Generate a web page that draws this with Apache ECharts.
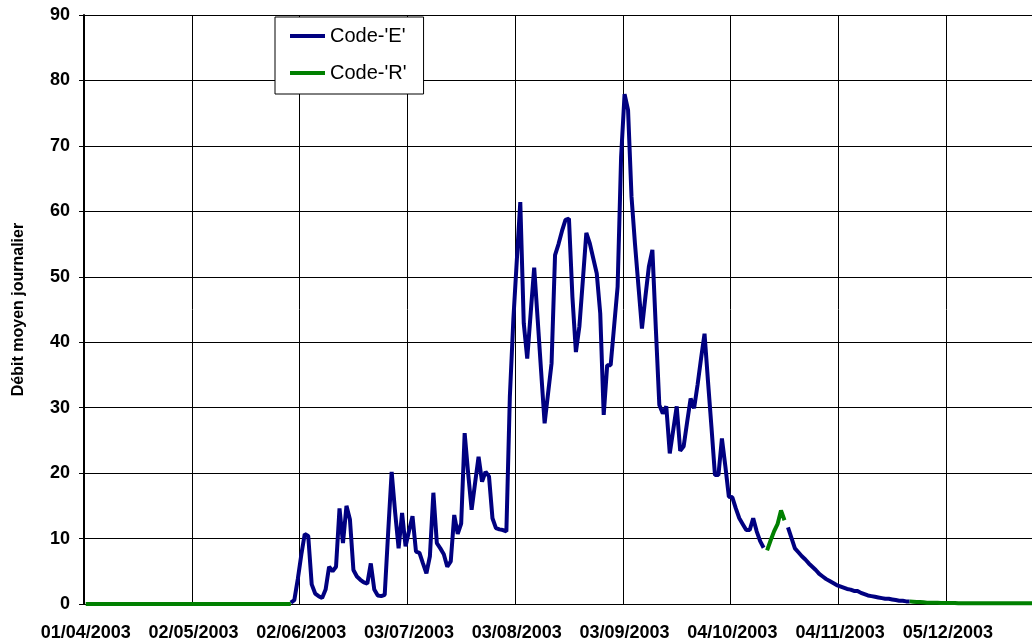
<!DOCTYPE html>
<html>
<head>
<meta charset="utf-8">
<script src="https://cdn.jsdelivr.net/npm/echarts@6/dist/echarts.min.js"></script>
<style>
html, body { margin: 0; padding: 0; background: #fff; overflow: hidden; }
/* the plot runs a few pixels past the right edge of the picture */
#chart { width: 1040px; height: 643px; }
</style>
</head>
<body>
<div id="chart"></div>
<script>
// daily axis: 01/04/2003 -> 31/12/2003
var startDay = new Date(2003, 3, 1);
var dayCount = 275;

// Code-'R' before the first measured day (01/04 -> 30/05), index 0
var rValues1 = [0, 0, 0, 0, 0, 0, 0, 0, 0, 0, 0, 0, 0, 0, 0, 0, 0, 0, 0, 0,
  0, 0, 0, 0, 0, 0, 0, 0, 0, 0, 0, 0, 0, 0, 0, 0, 0, 0, 0, 0,
  0, 0, 0, 0, 0, 0, 0, 0, 0, 0, 0, 0, 0, 0, 0, 0, 0, 0, 0, 0];

// Code-'E' from 30/05 (index 59) to 13/10 (index 195)
var eStart1 = 59;
var eValues1 = [0.2, 0.6, 3.8, 7.5, 10.7, 10.4, 3.0, 1.6, 1.2, 0.9,
  2.2, 5.7, 5.0, 5.7, 14.6, 9.3, 15.0, 12.9, 5.2, 4.2,
  3.7, 3.3, 3.1, 6.2, 2.2, 1.3, 1.2, 1.4, 11.0, 20.2,
  14.0, 8.5, 13.9, 8.8, 11.2, 13.4, 8.0, 7.8, 6.2, 4.7,
  7.3, 17.0, 9.3, 8.5, 7.6, 5.7, 6.5, 13.6, 10.7, 12.3,
  26.1, 20.0, 14.4, 18.5, 22.5, 18.7, 20.2, 19.5, 13.1, 11.6,
  11.4, 11.3, 11.1, 31.7, 43.4, 52.5, 61.4, 42.9, 37.5, 44.5,
  51.4, 43.5, 35.5, 27.6, 32.2, 36.8, 53.3, 55.0, 57.0, 58.7,
  58.9, 46.9, 38.5, 42.4, 49.5, 56.7, 55.1, 52.8, 50.5, 44.4,
  28.9, 36.5, 36.5, 42.5, 48.5, 68.3, 77.9, 75.5, 62.2, 55.0,
  48.5, 42.1, 47.0, 51.6, 54.1, 42.0, 30.4, 29.1, 30.2, 23.0,
  26.6, 30.2, 23.4, 24.1, 27.8, 31.4, 29.9, 33.5, 37.5, 41.3,
  34.0, 27.0, 19.7, 19.7, 25.3, 21.0, 16.4, 16.3, 14.6, 13.1,
  12.2, 11.3, 11.3, 13.1, 11.1, 9.6, 8.6];

// Code-'R' 14/10 -> 19/10
var rStart2 = 196;
var rValues2 = [8.2, 9.7, 11.1, 12.2, 14.3, 12.8];

// Code-'E' 20/10 -> 24/11
var eStart2 = 202;
var eValues2 = [11.7, 10.1, 8.5, 7.9, 7.3, 6.8, 6.2, 5.7, 5.2, 4.6,
  4.2, 3.8, 3.5, 3.2, 2.9, 2.7, 2.5, 2.3, 2.2, 2.0,
  2.0, 1.7, 1.5, 1.3, 1.2, 1.1, 1.0, 0.9, 0.8, 0.8,
  0.7, 0.6, 0.5, 0.5, 0.4, 0.4];

// Code-'R' 24/11 -> 31/12
var rStart3 = 237;
var rValues3 = [0.4, 0.35, 0.3, 0.3, 0.25, 0.2, 0.2, 0.2, 0.2, 0.15,
  0.15, 0.15, 0.15, 0.15, 0.1, 0.1, 0.1, 0.1, 0.1, 0.1,
  0.1, 0.1, 0.1, 0.1, 0.1, 0.1, 0.1, 0.1, 0.1, 0.1,
  0.1, 0.1, 0.1, 0.1, 0.1, 0.1, 0.1, 0.1];

var yTicks = [0, 10, 20, 30, 40, 50, 60, 70, 80, 90];

function pad(n) { return n < 10 ? '0' + n : '' + n; }

var days = [];
for (var i = 0; i < dayCount; i++) {
  var d = new Date(startDay.getFullYear(), startDay.getMonth(), startDay.getDate() + i);
  days.push(pad(d.getDate()) + '/' + pad(d.getMonth() + 1) + '/' + d.getFullYear());
}

function place(arr, start, values) {
  values.forEach(function (v, k) { arr[start + k] = v; });
}

var codeE = days.map(function () { return null; });
var codeR = days.map(function () { return null; });
place(codeR, 0, rValues1);
place(codeE, eStart1, eValues1);
place(codeR, rStart2, rValues2);
place(codeE, eStart2, eValues2);
place(codeR, rStart3, rValues3);

var font = '"Liberation Sans", Arial, sans-serif';

var myChart = echarts.init(document.getElementById('chart'));
myChart.setOption({
  animation: false,
  backgroundColor: '#fff',
  grid: {
    left: 84,
    top: 15,
    right: 0,
    bottom: 39,
    containLabel: false
  },
  legend: {
    orient: 'vertical',
    left: 275,
    top: 17,
    padding: [8, 17, 10, 15],
    icon: 'rect',
    itemWidth: 35,
    itemHeight: 4,
    itemGap: 15,
    backgroundColor: '#fff',
    borderColor: '#000',
    borderWidth: 1,
    borderRadius: 0,
    textStyle: {
      fontFamily: font,
      fontSize: 20,
      lineHeight: 22,
      color: '#000'
    },
    data: ["Code-'E'", "Code-'R'"]
  },
  xAxis: {
    type: 'category',
    data: days,
    boundaryGap: true,
    axisLine: { lineStyle: { color: '#000', width: 1 } },
    axisTick: { interval: 30, length: 5, lineStyle: { color: '#000' } },
    axisLabel: {
      interval: 30,
      margin: 20,
      fontFamily: font,
      fontWeight: 'bold',
      fontSize: 18,
      color: '#000'
    },
    splitLine: { show: true, interval: 30, lineStyle: { color: '#000', width: 1 } }
  },
  yAxis: {
    type: 'value',
    min: yTicks[0],
    max: yTicks[yTicks.length - 1],
    interval: 10,
    name: 'Débit moyen journalier',
    nameLocation: 'middle',
    nameRotate: 90,
    nameGap: 57,
    nameTextStyle: {
      fontFamily: font,
      fontWeight: 'bold',
      fontSize: 16,
      color: '#000'
    },
    axisLine: { show: true, lineStyle: { color: '#000', width: 2 } },
    axisTick: { show: true, length: 5, lineStyle: { color: '#000' } },
    axisLabel: {
      margin: 14,
      fontFamily: font,
      fontWeight: 'bold',
      fontSize: 18,
      color: '#000'
    },
    splitLine: { show: true, lineStyle: { color: '#000', width: 1 } }
  },
  series: [
    {
      name: "Code-'E'",
      type: 'line',
      data: codeE,
      symbol: 'none',
      color: '#000080',
      lineStyle: { color: '#000080', width: 4 }
    },
    {
      name: "Code-'R'",
      type: 'line',
      data: codeR,
      symbol: 'none',
      color: '#008000',
      lineStyle: { color: '#008000', width: 4 }
    }
  ]
});
</script>
</body>
</html>
